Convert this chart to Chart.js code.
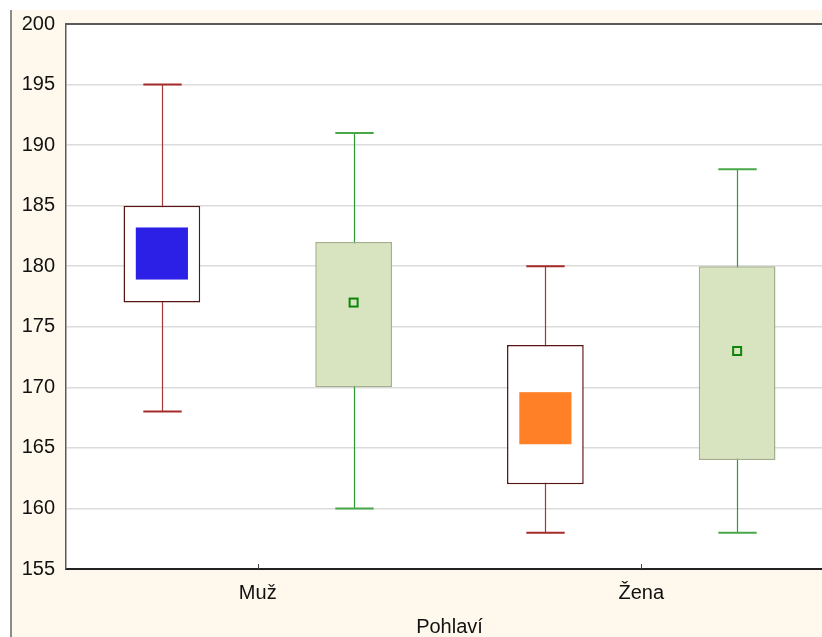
<!DOCTYPE html>
<html>
<head>
<meta charset="utf-8">
<script src="https://cdn.jsdelivr.net/npm/chart.js@4.4.1/dist/chart.umd.min.js"></script>
<style>
  html, body { margin: 0; padding: 0; overflow: hidden; background: #fff; }
  #frame {
    position: absolute; left: 10px; top: 10px;
    width: 821px; height: 650px;
    border-left: 2px solid #8c8c8c;
    background: #fff9ed;
  }
  #wrap { position: absolute; left: 0; top: 0; width: 821px; height: 650px; }
</style>
</head>
<body>
<div id="frame"><div id="wrap"><canvas id="boxChart"></canvas></div></div>
<script>
const categories = ["Muž", "Žena"];

// first group (white box, mean +- error as a filled square)
const aMin = [168, 158];
const aQ1 = [177, 162];
const aQ3 = [185, 173.5];
const aMax = [195, 180];
const aInnerLo = [178.9, 165.3];
const aInnerHi = [183.2, 169.6];
const innerColors = ["#2d20e6", "#ff8026"];

// second group (green box, mean marker)
const bMin = [160, 158];
const bQ1 = [170, 164];
const bQ3 = [182, 180];
const bMax = [191, 188];
const bMean = [177, 173];

const yMin = 155;
const yMax = 200;
const yStep = 5;

const font = { family: "'Liberation Sans', Arial, sans-serif", size: 20 };

const whiskers = {
  id: "whiskers",
  beforeDatasetsDraw(chart) {
    const ctx = chart.ctx;
    const y = chart.scales.y;
    const sets = [
      { mins: aMin, maxs: aMax, line: "#a03a3a", cap: "#a52a2a" },
      { mins: bMin, maxs: bMax, line: "#2f9a2f", cap: "#48a848" },
    ];
    sets.forEach((s, di) => {
      chart.getDatasetMeta(di).data.forEach((bar, i) => {
        const x = Math.round(bar.x) + 0.5;
        const top = y.getPixelForValue(s.maxs[i]);
        const bot = y.getPixelForValue(s.mins[i]);
        const half = bar.width / 4;
        ctx.save();
        ctx.strokeStyle = s.line;
        ctx.lineWidth = 1.2;
        ctx.beginPath();
        ctx.moveTo(x, top);
        ctx.lineTo(x, bot);
        ctx.stroke();
        ctx.strokeStyle = s.cap;
        ctx.lineWidth = 2;
        ctx.beginPath();
        ctx.moveTo(x - half, top);
        ctx.lineTo(x + half, top);
        ctx.moveTo(x - half, bot);
        ctx.lineTo(x + half, bot);
        ctx.stroke();
        ctx.restore();
      });
    });
  },
  afterDatasetsDraw(chart) {
    const ctx = chart.ctx;
    const y = chart.scales.y;
    const xs = chart.scales.x;
    const area = chart.chartArea;
    ctx.save();
    // inner squares of first group
    chart.getDatasetMeta(0).data.forEach((bar, i) => {
      const w = bar.width * 0.68;
      const t = y.getPixelForValue(aInnerHi[i]);
      const b = y.getPixelForValue(aInnerLo[i]);
      ctx.fillStyle = innerColors[i];
      ctx.fillRect(bar.x - w / 2, t, w, b - t);
    });
    // mean markers of second group
    chart.getDatasetMeta(1).data.forEach((bar, i) => {
      const py = y.getPixelForValue(bMean[i]);
      ctx.fillStyle = "#d8e3bf";
      ctx.strokeStyle = "#0b860b";
      ctx.lineWidth = 2;
      ctx.fillRect(bar.x - 5, py - 5, 10, 10);
      ctx.strokeRect(bar.x - 4, py - 4, 8, 8);
    });
    // small inner ticks on the category axis
    ctx.strokeStyle = "#444";
    ctx.lineWidth = 1;
    categories.forEach((c, i) => {
      const px = Math.round(xs.getPixelForValue(i)) + 0.5;
      ctx.beginPath();
      ctx.moveTo(px, area.bottom);
      ctx.lineTo(px, area.bottom - 5);
      ctx.stroke();
    });
    // top frame line
    ctx.strokeStyle = "#5a5a5a";
    ctx.lineWidth = 2;
    ctx.beginPath();
    ctx.moveTo(area.left, area.top);
    ctx.lineTo(area.right, area.top);
    ctx.stroke();
    ctx.restore();
  },
};

const plotBg = {
  id: "plotBg",
  beforeDraw(chart) {
    const { ctx, chartArea: a } = chart;
    ctx.save();
    ctx.fillStyle = "#ffffff";
    ctx.fillRect(a.left, a.top, a.right - a.left, a.bottom - a.top);
    ctx.restore();
  },
};

new Chart(document.getElementById("boxChart"), {
  type: "bar",
  data: {
    labels: categories,
    datasets: [
      {
        label: "A",
        data: categories.map((c, i) => [aQ1[i], aQ3[i]]),
        backgroundColor: "#ffffff",
        borderColor: "#5a1414",
        borderWidth: 1.5,
        borderSkipped: false,
      },
      {
        label: "B",
        data: categories.map((c, i) => [bQ1[i], bQ3[i]]),
        backgroundColor: "#d8e3bf",
        borderColor: "#a3af8a",
        borderWidth: 1.5,
        borderSkipped: false,
      },
    ],
  },
  options: {
    responsive: true,
    maintainAspectRatio: false,
    animation: false,
    categoryPercentage: 1,
    barPercentage: 0.4,
    layout: { padding: { top: 14, right: 0, bottom: 0, left: 0 } },
    plugins: {
      legend: { display: false },
      tooltip: { enabled: false },
    },
    scales: {
      x: {
        grid: { display: false, drawTicks: false },
        border: { color: "#222", width: 2 },
        ticks: { color: "#111", font: font, padding: 12 },
        title: {
          display: true,
          text: "Pohlaví",
          color: "#111",
          font: font,
          padding: { top: 0, bottom: 21 },
        },
        afterFit(scale) {
          scale.height = 91;
          scale.paddingLeft = 0;
          scale.paddingRight = 0;
        },
      },
      y: {
        min: yMin,
        max: yMax,
        ticks: { stepSize: yStep, color: "#111", font: font, padding: 11 },
        grid: { color: "#dcdcdc", lineWidth: 1.5, drawTicks: false },
        border: { color: "#5a5a5a", width: 1.5 },
        afterFit(scale) {
          scale.width = 54;
          scale.paddingTop = 0;
          scale.paddingBottom = 0;
        },
      },
    },
  },
  plugins: [plotBg, whiskers],
});
</script>
</body>
</html>
